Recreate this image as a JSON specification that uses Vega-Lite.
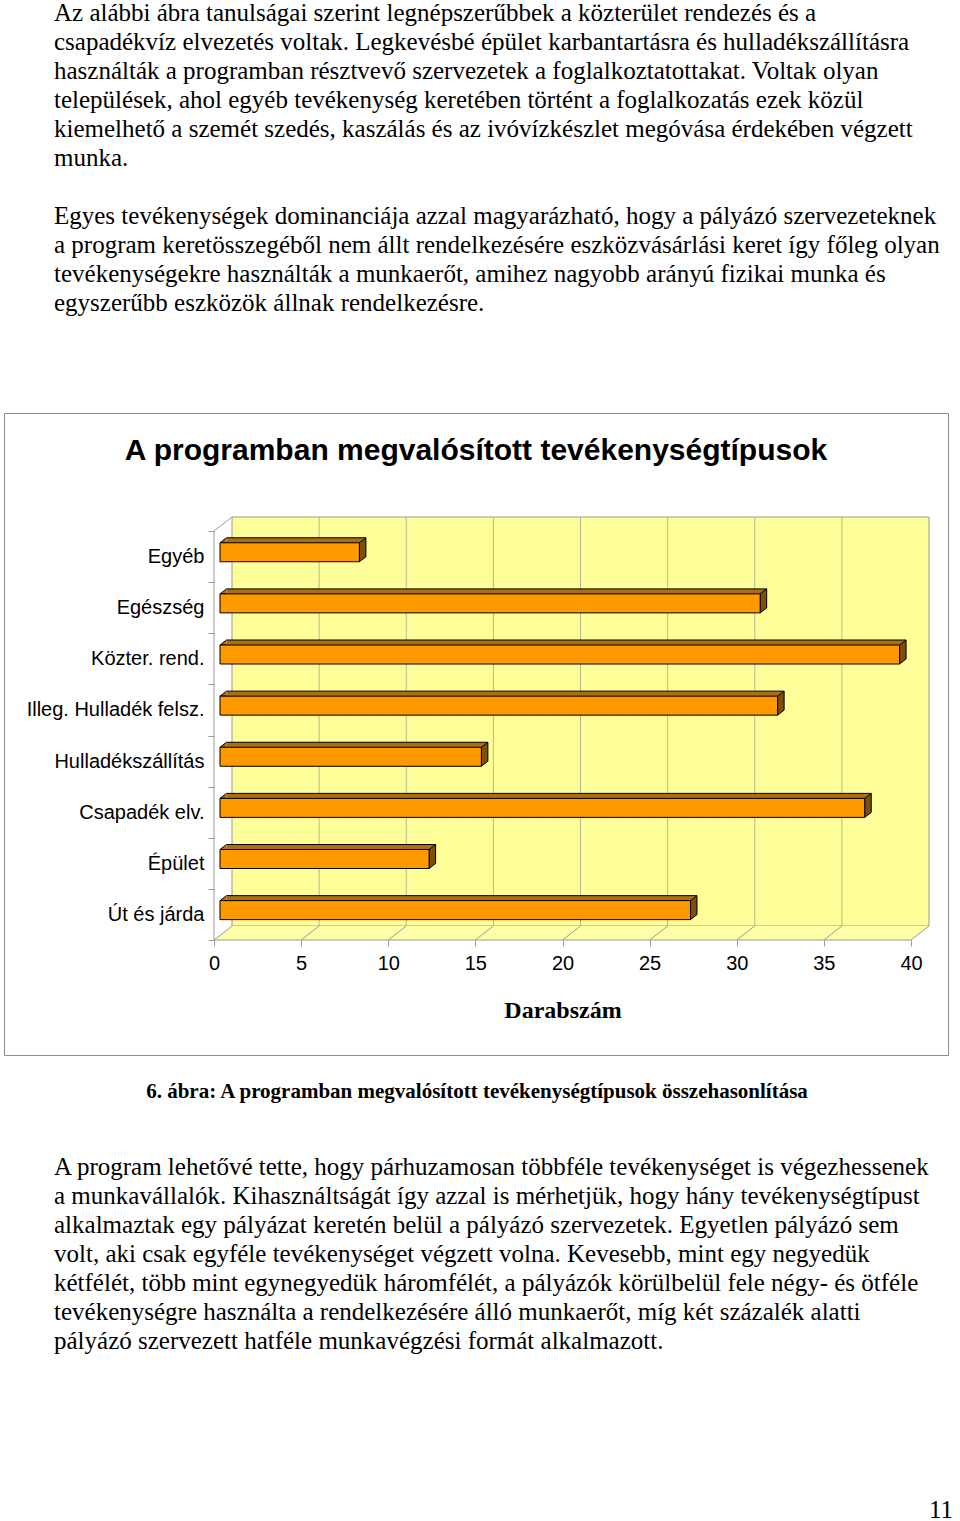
{
  "$schema": "https://vega.github.io/schema/vega-lite/v6.json",
  "padding": {"left": 3, "top": 0, "right": 0, "bottom": 0},
  "background": "white",
  "spacing": 0,
  "bounds": "flush",
  "config": {"view": {"stroke": null}, "font": "Liberation Sans"},
  "datasets": {
    "bars": [
      {"cat": "Egyéb", "v": 8},
      {"cat": "Egészség", "v": 31},
      {"cat": "Közter. rend.", "v": 39},
      {"cat": "Illeg. Hulladék felsz.", "v": 32},
      {"cat": "Hulladékszállítás", "v": 15},
      {"cat": "Csapadék elv.", "v": 37},
      {"cat": "Épület", "v": 12},
      {"cat": "Út és járda", "v": 27}
    ],
    "ticks": [{"t": 0}, {"t": 5}, {"t": 10}, {"t": 15}, {"t": 20}, {"t": 25}, {"t": 30}, {"t": 35}, {"t": 40}],
    "grid": [{"t": 5}, {"t": 10}, {"t": 15}, {"t": 20}, {"t": 25}, {"t": 30}, {"t": 35}],
    "one": [{"k": 1}],
    "top": [
      {"line": 0, "text": "Az alábbi ábra tanulságai szerint legnépszerűbbek a közterület rendezés és a"},
      {"line": 1, "text": "csapadékvíz elvezetés voltak. Legkevésbé épület karbantartásra és hulladékszállításra"},
      {"line": 2, "text": "használták a programban résztvevő szervezetek a foglalkoztatottakat. Voltak olyan"},
      {"line": 3, "text": "települések, ahol egyéb tevékenység keretében történt a foglalkozatás ezek közül"},
      {"line": 4, "text": "kiemelhető a szemét szedés, kaszálás és az ivóvízkészlet megóvása érdekében végzett"},
      {"line": 5, "text": "munka."},
      {"line": 7, "text": "Egyes tevékenységek dominanciája azzal magyarázható, hogy a pályázó szervezeteknek"},
      {"line": 8, "text": "a program keretösszegéből nem állt rendelkezésére eszközvásárlási keret így főleg olyan"},
      {"line": 9, "text": "tevékenységekre használták a munkaerőt, amihez nagyobb arányú fizikai munka és"},
      {"line": 10, "text": "egyszerűbb eszközök állnak rendelkezésre."}
    ],
    "bottom": [
      {"line": 0, "text": "A program lehetővé tette, hogy párhuzamosan többféle tevékenységet is végezhessenek"},
      {"line": 1, "text": "a munkavállalók. Kihasználtságát így azzal is mérhetjük, hogy hány tevékenységtípust"},
      {"line": 2, "text": "alkalmaztak egy pályázat keretén belül a pályázó szervezetek. Egyetlen pályázó sem"},
      {"line": 3, "text": "volt, aki csak egyféle tevékenységet végzett volna. Kevesebb, mint egy negyedük"},
      {"line": 4, "text": "kétfélét, több mint egynegyedük háromfélét, a pályázók körülbelül fele négy- és ötféle"},
      {"line": 5, "text": "tevékenységre használta a rendelkezésére álló munkaerőt, míg két százalék alatti"},
      {"line": 6, "text": "pályázó szervezett hatféle munkavégzési formát alkalmazott."}
    ],
    "caption": [{"t": "6. ábra: A programban megvalósított tevékenységtípusok összehasonlítása"}],
    "pagenum": [{"t": "11"}]
  },
  "vconcat": [
    {
      "width": 944,
      "height": 413,
      "data": {"name": "top"},
      "mark": {"type": "text", "align": "left", "baseline": "middle", "font": "Liberation Serif", "fontSize": 25, "color": "black"},
      "encoding": {
        "x": {"value": 50},
        "y": {"field": "line", "type": "ordinal", "scale": {"type": "point", "domain": [0, 1, 2, 3, 4, 5, 6, 7, 8, 9, 10], "range": [13, 303], "padding": 0}, "axis": null},
        "text": {"field": "text", "type": "nominal"}
      }
    },
    {
      "width": 944,
      "height": 642,
      "view": {"stroke": "#8c8c8c", "strokeWidth": 1},
      "title": {"text": "A programban megvalósított tevékenységtípusok", "font": "Liberation Sans", "fontSize": 30, "fontWeight": "bold", "color": "black", "anchor": "middle", "frame": "group", "offset": -78, "baseline": "middle"},
      "resolve": {"axis": {"x": "independent", "y": "independent"}},
      "layer": [
        {
          "data": {"name": "one"},
          "mark": {"type": "rect", "fill": "#FFFF99", "stroke": "#999999", "strokeWidth": 1, "xOffset": 18, "x2Offset": 18, "yOffset": -14, "y2Offset": -14},
          "encoding": {
            "x": {"datum": 0, "type": "quantitative", "scale": {"domain": [0, 40], "range": [210, 907], "nice": false, "zero": false}, "axis": null},
            "x2": {"datum": 40},
            "y": {"datum": "Egyéb", "type": "nominal", "bandPosition": 0, "scale": {"type": "band", "domain": ["Egyéb", "Egészség", "Közter. rend.", "Illeg. Hulladék felsz.", "Hulladékszállítás", "Csapadék elv.", "Épület", "Út és járda"], "range": [118, 527], "paddingInner": 0, "paddingOuter": 0}, "axis": null},
            "y2": {"datum": "Út és járda", "bandPosition": 1}
          }
        },
        {
          "data": {"name": "one"},
          "mark": {"type": "rect", "fill": "#FFFFA8", "xOffset": 18, "x2Offset": 0, "yOffset": -14, "y2Offset": 0},
          "encoding": {
            "x": {"datum": 0, "type": "quantitative", "axis": null},
            "x2": {"datum": 40},
            "y": {"datum": "Út és járda", "type": "nominal", "bandPosition": 1, "axis": null},
            "y2": {"datum": "Út és járda", "bandPosition": 1}
          }
        },
        {
          "data": {"name": "one"},
          "mark": {"type": "point", "shape": "M0,0L1.8,-1.4L1.8,0Z", "size": 400, "filled": true, "fill": "#FFFFA8", "strokeWidth": 0, "opacity": 1},
          "encoding": {
            "x": {"datum": 0, "type": "quantitative", "axis": null},
            "y": {"datum": "Út és járda", "type": "nominal", "bandPosition": 1, "axis": null}
          }
        },
        {
          "data": {"name": "one"},
          "mark": {"type": "point", "shape": "M0,0L1.8,-1.4L0,-1.4Z", "size": 400, "filled": true, "fill": "#FFFFA8", "strokeWidth": 0, "opacity": 1},
          "encoding": {
            "x": {"datum": 40, "type": "quantitative", "axis": null},
            "y": {"datum": "Út és járda", "type": "nominal", "bandPosition": 1, "axis": null}
          }
        },
        {
          "data": {"name": "one"},
          "mark": {"type": "rule", "color": "#999999", "strokeWidth": 1},
          "encoding": {
            "x": {"datum": 0, "type": "quantitative", "axis": null},
            "y": {"datum": "Egyéb", "type": "nominal", "bandPosition": 0, "axis": null},
            "y2": {"datum": "Út és járda", "bandPosition": 1}
          }
        },
        {
          "data": {"name": "one"},
          "mark": {"type": "rule", "color": "#999999", "strokeWidth": 1},
          "encoding": {
            "x": {"datum": 0, "type": "quantitative", "axis": null},
            "x2": {"datum": 40},
            "y": {"datum": "Út és járda", "type": "nominal", "bandPosition": 1, "axis": null}
          }
        },
        {
          "data": {"name": "grid"},
          "mark": {"type": "rule", "color": "#B8B890", "strokeWidth": 1, "xOffset": 18, "yOffset": -14, "y2Offset": -14},
          "encoding": {
            "x": {"field": "t", "type": "quantitative", "axis": null},
            "y": {"datum": "Egyéb", "type": "nominal", "bandPosition": 0, "axis": null},
            "y2": {"datum": "Út és járda", "bandPosition": 1}
          }
        },
        {
          "data": {"name": "ticks"},
          "mark": {"type": "point", "shape": "M0,0L1.8,-1.4", "size": 400, "filled": false, "stroke": "#999999", "strokeWidth": 1, "opacity": 1},
          "encoding": {
            "x": {"field": "t", "type": "quantitative", "axis": null},
            "y": {"datum": "Út és járda", "type": "nominal", "bandPosition": 1, "axis": null}
          }
        },
        {
          "data": {"name": "one"},
          "mark": {"type": "point", "shape": "M0,0L1.8,-1.4", "size": 400, "filled": false, "stroke": "#999999", "strokeWidth": 1, "opacity": 1},
          "encoding": {
            "x": {"datum": 0, "type": "quantitative", "axis": null},
            "y": {"datum": "Egyéb", "type": "nominal", "bandPosition": 0, "axis": null}
          }
        },
        {
          "data": {"name": "bars"},
          "mark": {"type": "bar", "fill": "#AA6E14", "strokeWidth": 0, "height": 19, "xOffset": 12.5, "x2Offset": 12.5, "yOffset": -9.3, "y2Offset": -9.3},
          "encoding": {
            "x": {"field": "v", "type": "quantitative", "axis": null},
            "y": {"field": "cat", "type": "nominal", "axis": null}
          }
        },
        {
          "data": {"name": "bars"},
          "mark": {"type": "rule", "color": "black", "strokeWidth": 1, "xOffset": 12.5, "x2Offset": 12.5, "yOffset": -18.8},
          "encoding": {
            "x": {"field": "v", "type": "quantitative", "axis": null},
            "x2": {"datum": 0},
            "y": {"field": "cat", "type": "nominal", "bandPosition": 0.5, "axis": null}
          }
        },
        {
          "data": {"name": "bars"},
          "mark": {"type": "point", "shape": "M0.65,0L0,0L0.65,-0.5", "size": 400, "filled": true, "fill": "#AA6E14", "stroke": "black", "strokeWidth": 1, "opacity": 1, "xOffset": 6, "yOffset": -13.8},
          "encoding": {
            "x": {"datum": 0, "type": "quantitative", "axis": null},
            "y": {"field": "cat", "type": "nominal", "bandPosition": 0.5, "axis": null}
          }
        },
        {
          "data": {"name": "bars"},
          "mark": {"type": "point", "shape": "M0,0L0.65,-0.5L0.65,1.4L0,1.9Z", "size": 400, "filled": true, "fill": "#7D500A", "stroke": "black", "strokeWidth": 1, "opacity": 1, "xOffset": 6, "yOffset": -13.8},
          "encoding": {
            "x": {"field": "v", "type": "quantitative", "axis": null},
            "y": {"field": "cat", "type": "nominal", "bandPosition": 0.5, "axis": null}
          }
        },
        {
          "data": {"name": "bars"},
          "mark": {"type": "bar", "fill": "#FF9900", "stroke": "black", "strokeWidth": 1, "height": 19, "xOffset": 6, "x2Offset": 6, "yOffset": -4.3, "y2Offset": -4.3},
          "encoding": {
            "x": {
              "field": "v", "type": "quantitative",
              "axis": {"orient": "bottom", "offset": -115, "values": [0, 5, 10, 15, 20, 25, 30, 35, 40], "domain": false, "grid": false, "ticks": true, "tickSize": 6, "tickColor": "#999999", "labelFlush": false, "labelFont": "Liberation Sans", "labelFontSize": 20, "labelColor": "black", "labelPadding": 7, "title": "Darabszám", "titleFont": "Liberation Serif", "titleFontSize": 24, "titleFontWeight": "bold", "titleColor": "black", "titleX": 558.5, "titleY": 70, "titleAlign": "center", "titleBaseline": "middle"}
            },
            "y": {
              "field": "cat", "type": "nominal",
              "axis": {"orient": "left", "offset": -210, "domain": false, "grid": false, "tickBand": "extent", "tickSize": 6, "tickColor": "#999999", "labelFont": "Liberation Sans", "labelFontSize": 20, "labelColor": "black", "labelPadding": 4, "title": null}
            }
          }
        }
      ]
    },
    {
      "width": 944,
      "height": 466,
      "resolve": {"scale": {"y": "independent"}},
      "layer": [
        {
          "data": {"name": "caption"},
          "mark": {"type": "text", "align": "center", "baseline": "middle", "font": "Liberation Serif", "fontSize": 21, "fontWeight": "bold", "color": "black"},
          "encoding": {
            "x": {"value": 473},
            "y": {"field": "t", "type": "nominal", "scale": {"type": "point", "range": [37, 37], "padding": 0}, "axis": null},
            "text": {"field": "t", "type": "nominal"}
          }
        },
        {
          "data": {"name": "bottom"},
          "mark": {"type": "text", "align": "left", "baseline": "middle", "font": "Liberation Serif", "fontSize": 25, "color": "black"},
          "encoding": {
            "x": {"value": 50},
            "y": {"field": "line", "type": "ordinal", "scale": {"type": "point", "domain": [0, 1, 2, 3, 4, 5, 6], "range": [112, 286], "padding": 0}, "axis": null},
            "text": {"field": "text", "type": "nominal"}
          }
        },
        {
          "data": {"name": "pagenum"},
          "mark": {"type": "text", "align": "right", "baseline": "middle", "font": "Liberation Serif", "fontSize": 25, "color": "black"},
          "encoding": {
            "x": {"value": 949},
            "y": {"field": "t", "type": "nominal", "scale": {"type": "point", "range": [455, 455], "padding": 0}, "axis": null},
            "text": {"field": "t", "type": "nominal"}
          }
        }
      ]
    }
  ]
}
